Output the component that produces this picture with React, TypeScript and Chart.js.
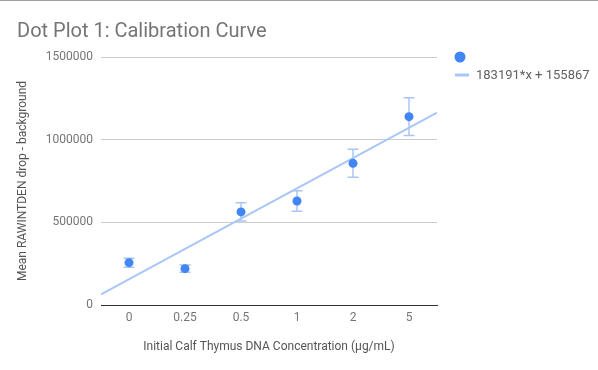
import React, { useEffect, useRef } from 'react';
import { Chart, registerables } from 'chart.js';

Chart.register(...registerables);

const TITLE = 'Dot Plot 1: Calibration Curve';
const X_TITLE = 'Initial Calf Thymus DNA Concentration (μg/mL)';
const Y_TITLE = 'Mean RAWINTDEN drop - background';

const categories = ['0', '0.25', '0.5', '1', '2', '5'];
const means = [256000, 220000, 563000, 629000, 857000, 1139000];
const errors = [27000, 22000, 55000, 62000, 85000, 114000];

const trendSlope = 183191;
const trendIntercept = 155867;
const trendLabel = '183191*x + 155867';
const trendRange = [-0.5, 5.5];

const yTicks = [0, 500000, 1000000, 1500000];

const FONT = 'Roboto, "Noto Sans", Arial, sans-serif';
const POINT_COLOR = '#4285f4';
const TREND_COLOR = '#a9c6f7';
const ERR_COLOR = '#a9c6f7';

const overlay = {
  id: 'overlay',
  beforeDraw(chart: any) {
    const ctx = chart.ctx;
    ctx.save();
    ctx.fillStyle = '#ffffff';
    ctx.fillRect(0, 0, chart.width, chart.height);
    ctx.fillStyle = '#9e9e9e';
    ctx.fillRect(0, 0, chart.width, 1);
    ctx.restore();
  },
  beforeDatasetsDraw(chart: any) {
    const ctx = chart.ctx;
    const xs = chart.scales.x;
    const ys = chart.scales.y;
    ctx.save();
    ctx.strokeStyle = ERR_COLOR;
    ctx.lineWidth = 1.5;
    means.forEach((m, i) => {
      const px = xs.getPixelForValue(i);
      const top = ys.getPixelForValue(m + errors[i]);
      const bot = ys.getPixelForValue(m - errors[i]);
      ctx.beginPath();
      ctx.moveTo(px, top);
      ctx.lineTo(px, bot);
      ctx.moveTo(px - 5.5, top);
      ctx.lineTo(px + 5.5, top);
      ctx.moveTo(px - 5.5, bot);
      ctx.lineTo(px + 5.5, bot);
      ctx.stroke();
    });
    ctx.restore();
  },
  afterDraw(chart: any) {
    const ctx = chart.ctx;
    const area = chart.chartArea;
    ctx.save();
    // title
    ctx.fillStyle = '#757575';
    ctx.font = `20px ${FONT}`;
    ctx.textAlign = 'left';
    ctx.textBaseline = 'alphabetic';
    ctx.fillText(TITLE, 17, 37);
    // legend
    const lx = area.right + 23;
    const ds = chart.data.datasets;
    // point series
    ctx.fillStyle = ds[0].backgroundColor;
    ctx.beginPath();
    ctx.arc(lx, 57, 5.5, 0, Math.PI * 2);
    ctx.fill();
    if (ds[0].label) {
      ctx.fillStyle = '#616161';
      ctx.font = `13px ${FONT}`;
      ctx.textBaseline = 'middle';
      ctx.fillText(ds[0].label, lx + 16, 57);
    }
    // trendline series
    ctx.strokeStyle = ds[1].borderColor;
    ctx.lineWidth = 3;
    ctx.beginPath();
    ctx.moveTo(lx - 5, 75);
    ctx.lineTo(lx + 9, 75);
    ctx.stroke();
    ctx.fillStyle = '#616161';
    ctx.font = `13px ${FONT}`;
    ctx.textBaseline = 'middle';
    ctx.fillText(ds[1].label, lx + 16, 75.5);
    ctx.restore();
  },
};

export default function App() {
  const ref = useRef<HTMLCanvasElement>(null);

  useEffect(() => {
    if (!ref.current) return;
    const pointData = means.map((m, i) => ({ x: i, y: m }));
    const trendData = trendRange.map((x) => ({ x, y: trendSlope * x + trendIntercept }));
    const chart = new Chart(ref.current, {
      type: 'scatter',
      data: {
        datasets: [
          {
            label: '',
            data: pointData,
            backgroundColor: POINT_COLOR,
            borderColor: POINT_COLOR,
            pointRadius: 4.5,
            pointHoverRadius: 4.5,
            borderWidth: 0,
            order: 1,
          },
          {
            type: 'line',
            label: trendLabel,
            data: trendData,
            borderColor: TREND_COLOR,
            backgroundColor: TREND_COLOR,
            borderWidth: 2,
            pointRadius: 0,
            fill: false,
            showLine: true,
            order: 2,
          } as any,
        ],
      },
      options: {
        animation: false,
        responsive: false,
        maintainAspectRatio: false,
        layout: { padding: { top: 57, right: 161, left: 0, bottom: 0 } },
        plugins: {
          legend: { display: false },
          title: { display: false },
          tooltip: { enabled: false },
        },
        scales: {
          x: {
            type: 'linear',
            min: trendRange[0],
            max: trendRange[1],
            afterBuildTicks: (s: any) => {
              s.ticks = categories.map((_, i) => ({ value: i }));
            },
            afterFit: (s: any) => {
              s.height = 65;
            },
            ticks: {
              callback: (v: any) => categories[v] ?? '',
              color: '#757575',
              font: { family: FONT, size: 12 },
              padding: 6,
              maxRotation: 0,
              autoSkip: false,
            },
            grid: { display: false, drawTicks: false },
            border: { display: true, color: '#333333', width: 1 },
            title: {
              display: true,
              text: X_TITLE,
              color: '#555555',
              font: { family: FONT, size: 12 },
              padding: { top: 0, bottom: 16 },
            },
          },
          y: {
            type: 'linear',
            min: 0,
            max: 1500000,
            afterBuildTicks: (s: any) => {
              s.ticks = yTicks.map((v) => ({ value: v }));
            },
            afterFit: (s: any) => {
              s.width = 101;
            },
            ticks: {
              callback: (v: any) => String(v),
              color: '#757575',
              font: { family: FONT, size: 12 },
              padding: 8,
            },
            grid: {
              drawTicks: false,
              color: (c: any) => (c.tick && c.tick.value === 0 ? '#333333' : '#cccccc'),
              lineWidth: 1,
            },
            border: { display: false },
            title: {
              display: true,
              text: Y_TITLE,
              color: '#555555',
              font: { family: FONT, size: 12 },
              padding: { top: 16, bottom: 0 },
            },
          },
        },
      },
      plugins: [overlay],
    } as any);
    return () => chart.destroy();
  }, []);

  return (
    <div style={{ position: 'fixed', left: 0, top: 0, width: 598, height: 370 }}>
      <canvas ref={ref} width={598} height={370} style={{ display: 'block', width: 598, height: 370 }} />
    </div>
  );
}
